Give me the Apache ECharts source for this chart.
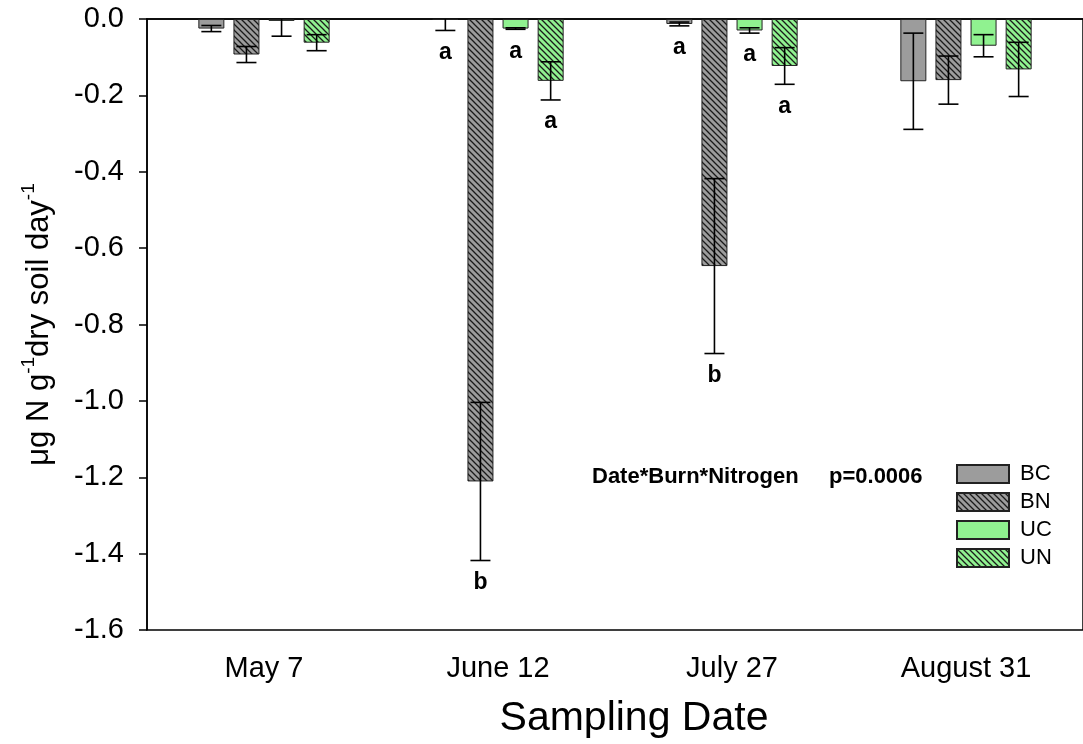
<!DOCTYPE html>
<html>
<head>
<meta charset="utf-8">
<script src="https://cdn.jsdelivr.net/npm/echarts@6/dist/echarts.min.js"></script>
<style>
html,body{margin:0;padding:0;background:#fff;}
#chart{width:1083px;height:744px;}
</style>
</head>
<body>
<div id="chart"></div>
<script>
// ---- data ----
var categories = ['May 7', 'June 12', 'July 27', 'August 31'];
var seriesNames = ['BC', 'BN', 'UC', 'UN'];
var BC = [-0.025, -0.002, -0.013, -0.163];
var BN = [-0.093, -1.211, -0.647, -0.160];
var UC = [-0.005, -0.025, -0.030, -0.070];
var UN = [-0.062, -0.162, -0.123, -0.132];
var BC_err = [0.008, 0.028, 0.005, 0.126];
var BN_err = [0.021, 0.207, 0.229, 0.063];
var UC_err = [0.040, 0.002, 0.007, 0.029];
var UN_err = [0.021, 0.050, 0.048, 0.071];
var BC_letters = ['', 'a', 'a', ''];
var BN_letters = ['', 'b', 'b', ''];
var UC_letters = ['', 'a', 'a', ''];
var UN_letters = ['', 'a', 'a', ''];
var yTicks = [-1.6, -1.4, -1.2, -1.0, -0.8, -0.6, -0.4, -0.2, 0.0];
var annotation = ['Date*Burn*Nitrogen', 'p=0.0006'];

// ---- styling helpers ----
var GRAY = '#9c9c9c';
var GREEN = '#90f290';
var BAR_W = 26;
var GAP_RATIO = 0.35;
function hatch(bg) {
  var s = 6;
  var c = document.createElement('canvas');
  c.width = s; c.height = s;
  var g = c.getContext('2d');
  g.fillStyle = bg; g.fillRect(0, 0, s, s);
  g.strokeStyle = '#1a1a1a'; g.lineWidth = 1.3;
  g.beginPath();
  for (var k = -1; k <= 1; k++) {
    g.moveTo(k * s - 1, -1); g.lineTo(k * s + s + 1, s + 1);
  }
  g.stroke();
  return { image: c, repeat: 'repeat' };
}
var fills = [GRAY, hatch(GRAY), GREEN, hatch(GREEN)];
var means = [BC, BN, UC, UN];
var errs = [BC_err, BN_err, UC_err, UN_err];
var letters = [BC_letters, BN_letters, UC_letters, UN_letters];

var records = [];
for (var s = 0; s < 4; s++) {
  for (var i = 0; i < categories.length; i++) {
    records.push({ ci: i, si: s, mean: means[s][i], err: errs[s][i], letter: letters[s][i] });
  }
}

var FONT = '"Liberation Sans", Arial, sans-serif';
var chart = echarts.init(document.getElementById('chart'));

var series = seriesNames.map(function (n, s) {
  return {
    name: n,
    type: 'bar',
    barWidth: BAR_W,
    barGap: (GAP_RATIO * 100) + '%',
    data: means[s],
    itemStyle: { color: fills[s], borderColor: '#222', borderWidth: 1 },
    emphasis: { disabled: true },
    z: 2
  };
});

series.push({
  type: 'custom',
  z: 5,
  silent: true,
  data: records.map(function (r) { return [r.ci, r.si, r.mean, r.err]; }),
  renderItem: function (params, api) {
    var r = records[params.dataIndex];
    var center = api.coord([r.ci, 0]);
    var step = BAR_W * (1 + GAP_RATIO);
    var x = center[0] + (r.si - 1.5) * step;
    var top = r.mean + r.err, bot = r.mean - r.err;
    var yTop = api.coord([r.ci, Math.min(top, 0)])[1];
    var yBot = api.coord([r.ci, bot])[1];
    var cap = 10;
    var st = { stroke: '#000', lineWidth: 1.6 };
    var children = [
      { type: 'line', shape: { x1: x, y1: yTop, x2: x, y2: yBot }, style: st },
      { type: 'line', shape: { x1: x - cap, y1: yBot, x2: x + cap, y2: yBot }, style: st }
    ];
    if (top <= 0) {
      children.push({ type: 'line', shape: { x1: x - cap, y1: yTop, x2: x + cap, y2: yTop }, style: st });
    }
    if (r.letter) {
      children.push({
        type: 'text',
        style: {
          x: x, y: yBot + 22, text: r.letter,
          fill: '#000', font: 'bold 23px ' + FONT,
          align: 'center', verticalAlign: 'middle'
        }
      });
    }
    return { type: 'group', children: children };
  }
});

var option = {
  backgroundColor: '#fff',
  animation: false,
  grid: {
    left: 147, top: 19, right: -10, bottom: 114,
    show: true, borderColor: '#000', borderWidth: 1.5, backgroundColor: 'transparent'
  },
  legend: {
    orient: 'vertical',
    left: 951, top: 458,
    itemWidth: 52, itemHeight: 18, itemGap: 6,
    icon: 'rect',
    selectedMode: false,
    data: seriesNames,
    textStyle: { fontFamily: FONT, fontSize: 22, lineHeight: 22, color: '#000', padding: [0, 0, 0, 6] }
  },
  xAxis: {
    type: 'category',
    data: categories,
    position: 'bottom',
    axisLine: { lineStyle: { color: '#000', width: 1.5 } },
    axisTick: { alignWithLabel: true, length: 8, lineStyle: { color: '#000', width: 1.5 } },
    axisLabel: { fontFamily: FONT, fontSize: 29, color: '#000', margin: 24 },
    name: 'Sampling Date',
    nameLocation: 'middle',
    nameGap: 68,
    nameTextStyle: { fontFamily: FONT, fontSize: 41, color: '#000', padding: [0, 0, 0, 38] }
  },
  yAxis: {
    type: 'value',
    min: yTicks[0], max: yTicks[yTicks.length - 1], interval: 0.2,
    axisLine: { show: true, lineStyle: { color: '#000', width: 1.5 } },
    axisTick: { show: true, length: 8, lineStyle: { color: '#000', width: 1.5 } },
    splitLine: { show: false },
    axisLabel: {
      fontFamily: FONT, fontSize: 29, color: '#000', margin: 23,
      formatter: function (v) { return (Math.abs(v) < 1e-9 ? 0 : v).toFixed(1); }
    },
    name: '{a|μg N g}{s|-1}{a|dry soil day}{s|-1}',
    nameLocation: 'middle',
    nameRotate: 90,
    nameGap: 92,
    nameTextStyle: {
      rich: {
        a: { fontFamily: FONT, fontSize: 31, color: '#000', lineHeight: 36, verticalAlign: 'bottom' },
        s: { fontFamily: FONT, fontSize: 19, color: '#000', lineHeight: 36, verticalAlign: 'top', padding: [0, 0, 14, 0] }
      }
    }
  },
  graphic: [
    { type: 'text', left: 592, top: 466, style: { text: annotation[0], font: 'bold 22px ' + FONT, fill: '#000' } },
    { type: 'text', left: 829, top: 466, style: { text: annotation[1], font: 'bold 22px ' + FONT, fill: '#000' } }
  ],
  series: series
};
chart.setOption(option);
</script>
</body>
</html>
